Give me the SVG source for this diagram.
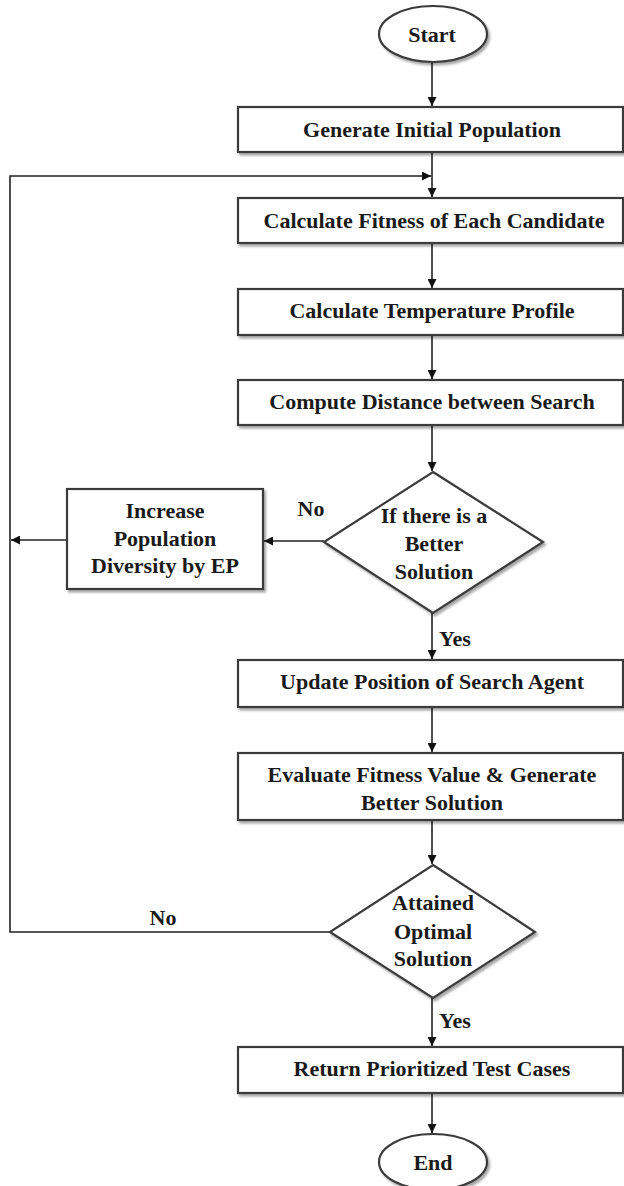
<svg xmlns="http://www.w3.org/2000/svg" width="624" height="1186" viewBox="0 0 624 1186">
<style>
.node{fill:#fff;stroke:#3a3a3a;stroke-width:2.2;filter:url(#sh)}
.t{font-family:"Liberation Serif","Times New Roman",serif;font-weight:bold;font-size:22px;fill:#1a1a1a;text-anchor:middle}
.c{fill:none;stroke:#222;stroke-width:1.6}
</style>
<defs>
<filter id="sh" x="-10%" y="-10%" width="120%" height="130%">
<feDropShadow dx="2" dy="2.5" stdDeviation="1.2" flood-color="#000" flood-opacity="0.35"/>
</filter>
<marker id="ah" viewBox="0 0 10 10" refX="10" refY="5" markerWidth="9" markerHeight="9" markerUnits="userSpaceOnUse" orient="auto">
<path d="M0,0 L10,5 L0,10 z" fill="#111"/>
</marker>
</defs>
<rect width="624" height="1186" fill="#fff"/>
<g id="connectors">
<line class="c" x1="432" y1="62" x2="432" y2="106" marker-end="url(#ah)"/>
<line class="c" x1="432" y1="152" x2="432" y2="197" marker-end="url(#ah)"/>
<line class="c" x1="432" y1="243" x2="432" y2="288" marker-end="url(#ah)"/>
<line class="c" x1="432" y1="335" x2="432" y2="379" marker-end="url(#ah)"/>
<line class="c" x1="432" y1="425" x2="432" y2="471" marker-end="url(#ah)"/>
<line class="c" x1="324" y1="541" x2="264" y2="541" marker-end="url(#ah)"/>
<line class="c" x1="67" y1="540" x2="11" y2="540" marker-end="url(#ah)"/>
<line class="c" x1="432" y1="613" x2="432" y2="659" marker-end="url(#ah)"/>
<line class="c" x1="432" y1="707" x2="432" y2="752" marker-end="url(#ah)"/>
<line class="c" x1="432" y1="820" x2="432" y2="864" marker-end="url(#ah)"/>
<line class="c" x1="432" y1="998" x2="432" y2="1046" marker-end="url(#ah)"/>
<line class="c" x1="432" y1="1093" x2="432" y2="1133" marker-end="url(#ah)"/>
<polyline class="c" points="330,932 10,932 10,176 431,176" marker-end="url(#ah)"/>
<text class="t" x="311" y="516">No</text>
<text class="t" x="163" y="925">No</text>
<text class="t" x="455" y="646">Yes</text>
<text class="t" x="455" y="1028">Yes</text>
</g>
<g id="start">
<ellipse class="node" cx="433" cy="34" rx="54" ry="28"/>
<text class="t" x="432" y="42">Start</text>
</g>
<g id="generate">
<rect class="node" x="238" y="107" width="385" height="45"/>
<text class="t" x="432" y="137">Generate Initial Population</text>
</g>
<g id="fitness">
<rect class="node" x="238" y="198" width="385" height="45"/>
<text class="t" x="434" y="228">Calculate Fitness of Each Candidate</text>
</g>
<g id="temperature">
<rect class="node" x="238" y="289" width="385" height="46"/>
<text class="t" x="432" y="318">Calculate Temperature Profile</text>
</g>
<g id="distance">
<rect class="node" x="238" y="380" width="385" height="45"/>
<text class="t" x="432" y="409">Compute Distance between Search</text>
</g>
<g id="decision1">
<polygon class="node" points="433,472 543,542 433,613 324,542"/>
<text class="t" x="434" y="523">If there is a</text>
<text class="t" x="434" y="551">Better</text>
<text class="t" x="434" y="579">Solution</text>
</g>
<g id="increase">
<rect class="node" x="67" y="489" width="196" height="100"/>
<text class="t" x="165" y="518">Increase</text>
<text class="t" x="165" y="546">Population</text>
<text class="t" x="165" y="573">Diversity by EP</text>
</g>
<g id="update">
<rect class="node" x="238" y="660" width="385" height="47"/>
<text class="t" x="432" y="689">Update Position of Search Agent</text>
</g>
<g id="evaluate">
<rect class="node" x="238" y="753" width="385" height="67"/>
<text class="t" x="432" y="782">Evaluate Fitness Value &amp; Generate</text>
<text class="t" x="432" y="810">Better Solution</text>
</g>
<g id="decision2">
<polygon class="node" points="433,865 535,932 433,998 330,932"/>
<text class="t" x="433" y="910">Attained</text>
<text class="t" x="433" y="939">Optimal</text>
<text class="t" x="433" y="966">Solution</text>
</g>
<g id="return">
<rect class="node" x="238" y="1047" width="385" height="46"/>
<text class="t" x="432" y="1076">Return Prioritized Test Cases</text>
</g>
<g id="end">
<ellipse class="node" cx="433" cy="1162" rx="54" ry="28"/>
<text class="t" x="433" y="1170">End</text>
</g>
</svg>
